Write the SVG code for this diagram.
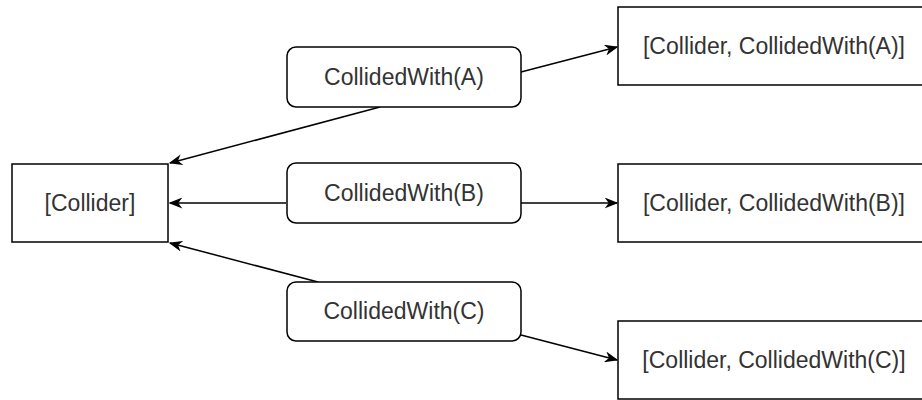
<svg xmlns="http://www.w3.org/2000/svg" width="922" height="400" viewBox="0 0 922 400">
<defs>
<style>
.box{fill:#fff;stroke:#000;stroke-width:1.5}
.t{font-family:"Liberation Sans",Arial,sans-serif;font-size:23px;fill:#333;text-anchor:middle;dominant-baseline:central}
.e{fill:none;stroke:#000;stroke-width:1.5}
</style>
<marker id="arr" viewBox="0 0 10 8" refX="9" refY="4" markerWidth="14" markerHeight="11" markerUnits="userSpaceOnUse" orient="auto">
<path d="M0,0 L10,4 L0,8 L3,4 Z" fill="#000"/>
</marker>
</defs>
<rect width="922" height="400" fill="#fff"/>
<g id="connectors">
<path class="e" d="M380,107 L170,163" marker-end="url(#arr)"/>
<path class="e" d="M286,203 L170,203" marker-end="url(#arr)"/>
<path class="e" d="M318,282 L170,243" marker-end="url(#arr)"/>
<path class="e" d="M521,72 L617,47" marker-end="url(#arr)"/>
<path class="e" d="M521,203 L617,203" marker-end="url(#arr)"/>
<path class="e" d="M521,335 L617,360" marker-end="url(#arr)"/>
</g>
<g id="collider">
<rect class="box" x="12" y="164" width="156" height="78"/>
<text class="t" x="90" y="203">[Collider]</text>
</g>
<g id="cwA">
<rect class="box" x="287" y="47" width="234" height="60" rx="9"/>
<text class="t" x="404" y="77">CollidedWith(A)</text>
</g>
<g id="cwB">
<rect class="box" x="287" y="163" width="234" height="60" rx="9"/>
<text class="t" x="404" y="193">CollidedWith(B)</text>
</g>
<g id="cwC">
<rect class="box" x="287" y="282" width="234" height="59" rx="9"/>
<text class="t" x="404" y="311">CollidedWith(C)</text>
</g>
<g id="resA">
<rect class="box" x="618" y="7" width="312" height="78"/>
<text class="t" x="774" y="46">[Collider, CollidedWith(A)]</text>
</g>
<g id="resB">
<rect class="box" x="618" y="164" width="312" height="78"/>
<text class="t" x="774" y="203">[Collider, CollidedWith(B)]</text>
</g>
<g id="resC">
<rect class="box" x="618" y="321" width="312" height="78"/>
<text class="t" x="774" y="360">[Collider, CollidedWith(C)]</text>
</g>
</svg>
